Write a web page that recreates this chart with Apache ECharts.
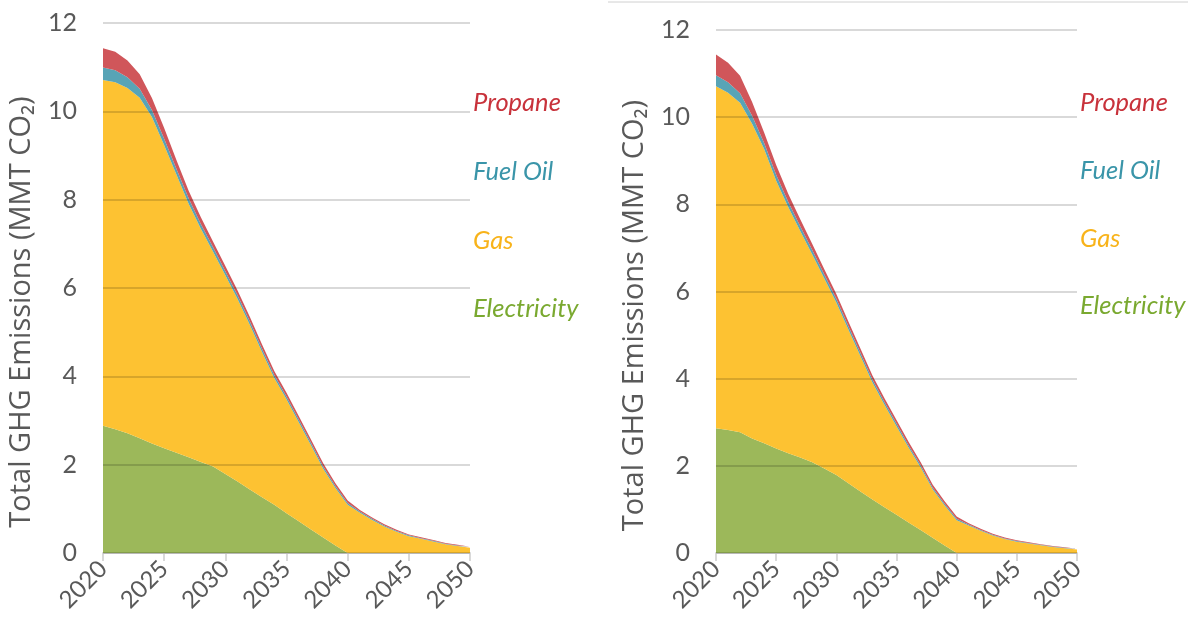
<!DOCTYPE html>
<html>
<head>
<meta charset="utf-8">
<script src="https://cdn.jsdelivr.net/npm/echarts@6/dist/echarts.min.js"></script>
<style>
  html, body { margin: 0; padding: 0; background: #fff; }
  #chart { width: 1188px; height: 639px; }
</style>
</head>
<body>
<div id="chart"></div>
<script>
// years on the x axis
const years = ['2020','2021','2022','2023','2024','2025','2026','2027','2028','2029','2030',
  '2031','2032','2033','2034','2035','2036','2037','2038','2039','2040',
  '2041','2042','2043','2044','2045','2046','2047','2048','2049','2050'];
const yTicks = [0, 2, 4, 6, 8, 10, 12];

// left panel (MMT CO2)
const elecLeft = [2.88,2.80,2.71,2.60,2.48,2.37,2.27,2.17,2.06,1.96,1.79,1.62,1.44,1.26,1.09,0.90,0.72,0.53,0.35,0.17,0,0,0,0,0,0,0,0,0,0,0];
const gasLeft = [7.83,7.86,7.82,7.71,7.39,6.86,6.30,5.74,5.28,4.86,4.50,4.13,3.73,3.29,2.87,2.58,2.24,1.91,1.56,1.30,1.09,0.91,0.75,0.60,0.48,0.38,0.32,0.26,0.20,0.16,0.12];
const fuelLeft = [0.28,0.27,0.24,0.20,0.16,0.15,0.13,0.12,0.11,0.10,0.09,0.085,0.08,0.075,0.07,0.065,0.06,0.055,0.05,0.045,0.04,0.03,0.025,0.02,0.02,0.02,0.015,0.015,0.01,0.01,0.01];
const propLeft = [0.44,0.42,0.38,0.33,0.27,0.24,0.20,0.17,0.15,0.13,0.12,0.11,0.10,0.095,0.09,0.085,0.08,0.075,0.07,0.065,0.06,0.035,0.03,0.03,0.025,0.02,0.02,0.02,0.015,0.015,0.01];

// right panel (MMT CO2)
const elecRight = [2.86,2.82,2.77,2.63,2.52,2.40,2.29,2.19,2.08,1.94,1.79,1.60,1.41,1.23,1.05,0.88,0.70,0.53,0.35,0.17,0,0,0,0,0,0,0,0,0,0,0];
const gasRight = [7.85,7.74,7.56,7.22,6.75,6.14,5.65,5.20,4.77,4.36,3.96,3.53,3.11,2.68,2.35,2.03,1.72,1.44,1.11,0.92,0.75,0.63,0.51,0.40,0.32,0.26,0.22,0.18,0.14,0.11,0.08];
const fuelRight = [0.25,0.24,0.22,0.18,0.14,0.14,0.12,0.11,0.10,0.09,0.085,0.08,0.075,0.07,0.065,0.06,0.055,0.05,0.045,0.04,0.035,0.025,0.02,0.02,0.015,0.015,0.01,0.01,0.01,0.01,0.01];
const propRight = [0.48,0.45,0.40,0.32,0.24,0.22,0.18,0.16,0.14,0.12,0.11,0.10,0.095,0.09,0.085,0.08,0.075,0.07,0.065,0.06,0.055,0.025,0.025,0.02,0.02,0.015,0.015,0.01,0.01,0.01,0.01];

const names = ['Electricity', 'Gas', 'Fuel Oil', 'Propane'];
const fills = ['#9cb85a', '#fdc232', '#58a4b6', '#d0565a'];
const textColors = ['#7aa930', '#f8b31a', '#3a95a9', '#c8323b'];

const font = 'Lato, "Open Sans", sans-serif';
const gray = '#595959';

let chart = echarts.init(document.getElementById('chart'));

function xAxisFor(idx) {
  return {
    type: 'category',
    gridIndex: idx,
    data: years,
    boundaryGap: false,
    axisLine: {lineStyle: {color: '#d9d9d9', width: 2}},
    axisTick: {show: true, interval: 4, length: 8, lineStyle: {color: '#d9d9d9', width: 2}},
    axisLabel: {interval: 4, rotate: 45, margin: 12, color: gray, fontSize: 24, fontFamily: font},
    splitLine: {show: false}
  }
}

function yAxisFor(idx) {
  return {
    type: 'value',
    gridIndex: idx,
    min: yTicks[0],
    max: yTicks[yTicks.length - 1],
    interval: 2,
    z: 3,
    name: 'Total GHG Emissions (MMT CO\u2082)',
    nameLocation: 'middle',
    nameGap: 67,
    nameTextStyle: {color: gray, fontSize: 29, fontFamily: '"Open Sans", Lato, sans-serif', padding: [0, 48, 0, 0]},
    axisLine: {show: false},
    axisTick: {show: false},
    axisLabel: {margin: 26, color: gray, fontSize: 25, fontFamily: font},
    splitLine: {lineStyle: {color: 'rgba(0,0,0,0.15)', width: 2}}
  }
}

function seriesFor(idx, stack, arrays) {
  return arrays.map((arr, i) => ({
    name: names[i],
    type: 'line',
    stack: stack,
    xAxisIndex: idx,
    yAxisIndex: idx,
    data: arr,
    symbol: 'none',
    smooth: false,
    lineStyle: {width: 0},
    areaStyle: {color: fills[i], opacity: 1},
    z: 2,
    silent: true
  }))
}

function legendFor(left, top, gap) {
  return {
    left: left,
    top: top,
    orient: 'vertical',
    selectedMode: false,
    icon: 'rect',
    itemWidth: 0,
    itemHeight: 24,
    itemGap: gap,
    data: names.slice().reverse().map((n) => ({
      name: n,
      itemStyle: {opacity: 0},
      textStyle: {color: textColors[names.indexOf(n)], fontSize: 25.5, fontStyle: 'italic', fontFamily: font}
    }))
  }
}

let option = {
  animation: false,
  backgroundColor: '#fff',
  grid: [
    {left: 103, top: 23, width: 367, height: 530},
    {left: 716, top: 30, width: 361, height: 523}
  ],
  xAxis: [xAxisFor(0), xAxisFor(1)],
  yAxis: [yAxisFor(0), yAxisFor(1)],
  legend: [legendFor(463, 85, 42.7), legendFor(1070, 85, 41.7)],
  graphic: [
    {type: 'line', shape: {x1: 608, y1: 2, x2: 1188, y2: 2}, style: {stroke: '#d0d0d0', lineWidth: 1}}
  ],
  series: [
    ...seriesFor(0, 'left', [elecLeft, gasLeft, fuelLeft, propLeft]),
    ...seriesFor(1, 'right', [elecRight, gasRight, fuelRight, propRight])
  ]
};

chart.setOption(option);
</script>
</body>
</html>
